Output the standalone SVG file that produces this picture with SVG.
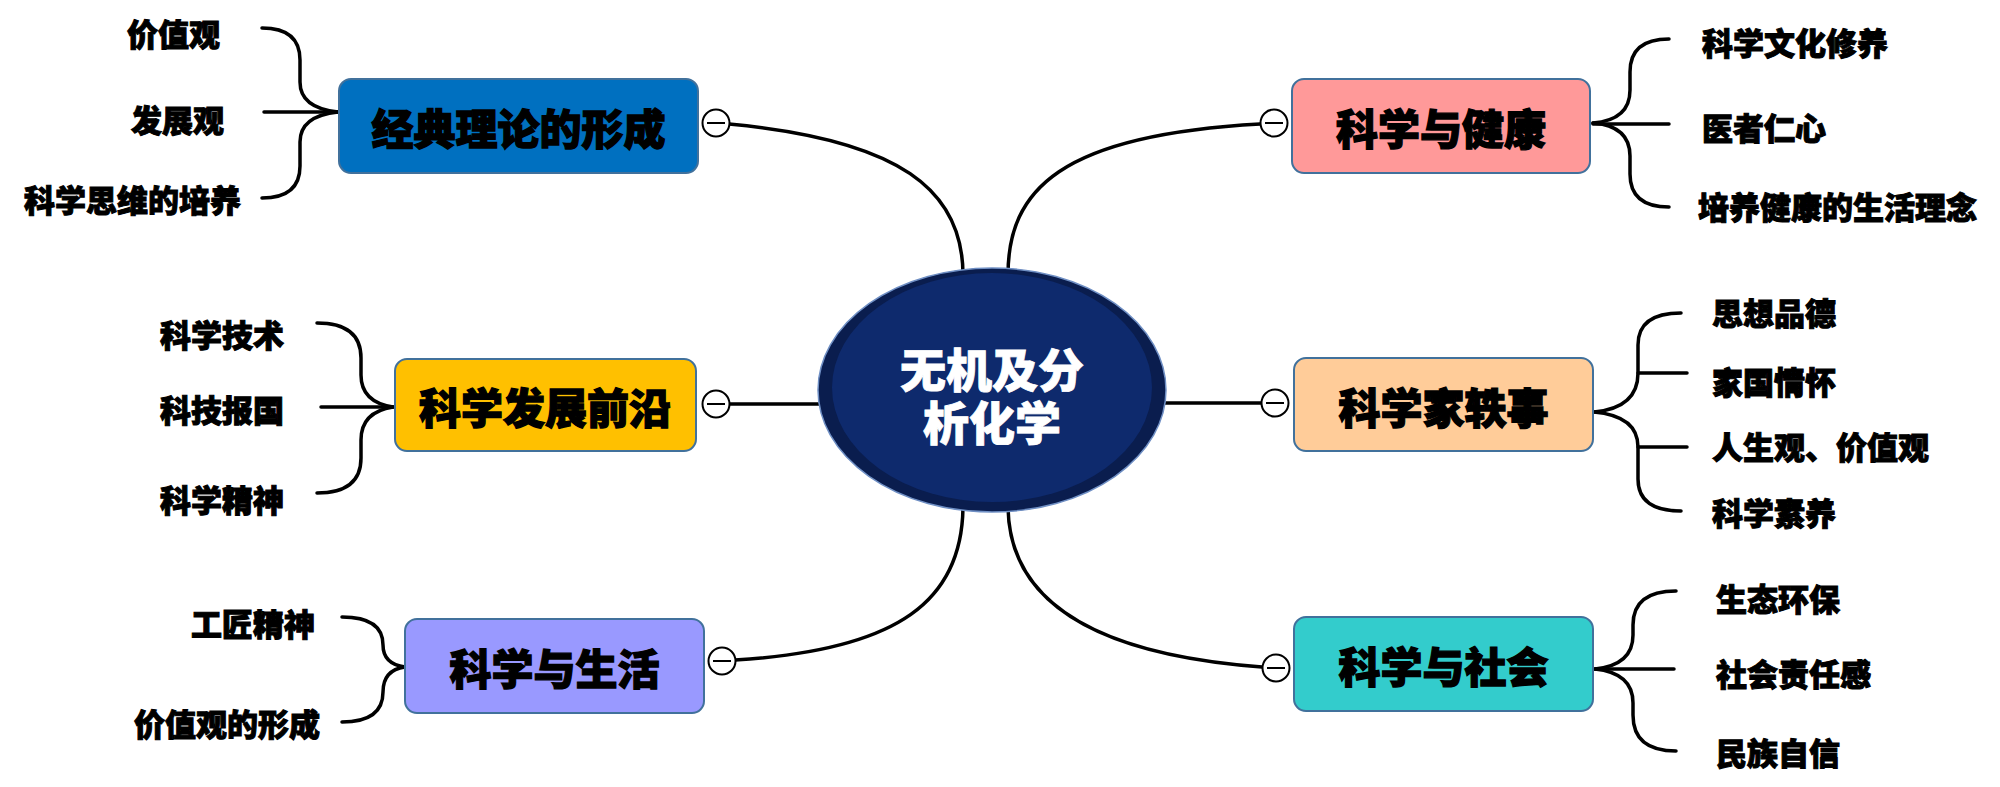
<svg xmlns="http://www.w3.org/2000/svg" width="2000" height="787" viewBox="0 0 2000 787">
<style>
.box{stroke:#41719c;stroke-width:2}
.title{font-family:"Noto Sans CJK SC","Noto Sans",sans-serif;font-weight:900;font-size:42px;fill:#000;stroke:#000;stroke-width:1.3;text-anchor:middle;dominant-baseline:central}
.sub{font-family:"Noto Sans CJK SC","Noto Sans",sans-serif;font-weight:900;font-size:31px;fill:#000;stroke:#000;stroke-width:1;dominant-baseline:central}
.l{text-anchor:end}
.center{font-family:"Noto Sans CJK SC","Noto Sans",sans-serif;font-weight:900;font-size:46px;fill:#fff;stroke:#fff;stroke-width:0.8;text-anchor:middle;dominant-baseline:central}
.c{fill:none;stroke:#000;stroke-width:3.5;stroke-linecap:round}
.tog circle{fill:#fff;stroke:#000;stroke-width:2}
.tog line{stroke:#000;stroke-width:2}
</style>
<rect width="2000" height="787" fill="#fff"/>
<g id="connectors">
<path class="c" d="M729,124 C900,140 963,190 963,275"/>
<path class="c" d="M1260,124 C1060,135 1008,190 1008,275"/>
<path class="c" d="M729,404 L830,404"/>
<path class="c" d="M1155,403 L1262,403"/>
<path class="c" d="M735,660 C900,650 963,600 963,505"/>
<path class="c" d="M1262,667 C1100,655 1008,605 1008,505"/>
<path class="c" d="M262,28 Q300,28 300,60 L300,82 Q300,108 338,112"/>
<path class="c" d="M262,198 Q300,198 300,166 L300,142 Q300,116 338,112"/>
<path class="c" d="M264,112 L338,112"/>
<path class="c" d="M317,323 Q361,323 361,358 L361,375 Q361,402 393,407"/>
<path class="c" d="M317,493 Q361,493 361,458 L361,440 Q361,412 393,407"/>
<path class="c" d="M321,407 L393,407"/>
<path class="c" d="M342,617 Q383,617 383,645 Q383,664 405,667"/>
<path class="c" d="M342,722 Q383,722 383,692 Q383,670 405,667"/>
<path class="c" d="M1593,123 Q1630,120 1630,90 L1630,72 Q1630,39 1669,39"/>
<path class="c" d="M1593,123 Q1630,126 1630,156 L1630,174 Q1630,207 1669,207"/>
<path class="c" d="M1593,124 L1669,124"/>
<path class="c" d="M1594,412 Q1638,408 1638,373 L1638,345 Q1638,313 1681,313"/>
<path class="c" d="M1594,412 Q1638,416 1638,447 L1638,479 Q1638,511 1681,511"/>
<path class="c" d="M1638,373 L1687,373"/>
<path class="c" d="M1638,447 L1687,447"/>
<path class="c" d="M1595,669 Q1633,665 1633,635 L1633,625 Q1633,591 1676,591"/>
<path class="c" d="M1595,669 Q1633,673 1633,703 L1633,715 Q1633,751 1676,751"/>
<path class="c" d="M1595,669 L1674,669"/>
</g>
<g id="center">
<ellipse cx="992" cy="390" rx="174" ry="122" fill="#0a1d4e" stroke="#6f8fc4" stroke-width="1.5"/>
<ellipse cx="992" cy="387.5" rx="160" ry="114.5" fill="#0e2a6d"/>
<text class="center" x="992" y="367"><tspan x="992" y="367">无机及分</tspan><tspan x="992" y="420">析化学</tspan></text>
</g>
<g id="n1">
<rect class="box" x="339" y="79" width="359" height="94" rx="12" fill="#0070c0"/>
<text class="title" x="518.5" y="126">经典理论的形成</text>
<g class="tog"><circle cx="716" cy="123" r="13.5"/><line x1="707" y1="123" x2="725" y2="123"/></g>
</g>
<g id="n2">
<rect class="box" x="1292" y="79" width="298" height="94" rx="12" fill="#ff9999"/>
<text class="title" x="1441" y="126">科学与健康</text>
<g class="tog"><circle cx="1274" cy="123" r="13.5"/><line x1="1265" y1="123" x2="1283" y2="123"/></g>
</g>
<g id="n3">
<rect class="box" x="395" y="359" width="301" height="92" rx="12" fill="#ffc000"/>
<text class="title" x="545" y="405">科学发展前沿</text>
<g class="tog"><circle cx="716" cy="404" r="13.5"/><line x1="707" y1="404" x2="725" y2="404"/></g>
</g>
<g id="n4">
<rect class="box" x="1294" y="358" width="299" height="93" rx="12" fill="#ffcc99"/>
<text class="title" x="1443.5" y="405">科学家轶事</text>
<g class="tog"><circle cx="1275" cy="403" r="13.5"/><line x1="1266" y1="403" x2="1284" y2="403"/></g>
</g>
<g id="n5">
<rect class="box" x="405" y="619" width="299" height="94" rx="12" fill="#9999ff"/>
<text class="title" x="554.5" y="666">科学与生活</text>
<g class="tog"><circle cx="722" cy="661" r="13.5"/><line x1="713" y1="661" x2="731" y2="661"/></g>
</g>
<g id="n6">
<rect class="box" x="1294" y="617" width="299" height="94" rx="12" fill="#33cccc"/>
<text class="title" x="1443.5" y="664">科学与社会</text>
<g class="tog"><circle cx="1276" cy="668" r="13.5"/><line x1="1267" y1="668" x2="1285" y2="668"/></g>
</g>
<g id="leaves">
<text class="sub l" x="220" y="32">价值观</text>
<text class="sub l" x="224" y="118">发展观</text>
<text class="sub l" x="241" y="198">科学思维的培养</text>
<text class="sub l" x="284" y="333">科学技术</text>
<text class="sub l" x="284" y="408">科技报国</text>
<text class="sub l" x="284" y="498">科学精神</text>
<text class="sub l" x="315" y="622">工匠精神</text>
<text class="sub l" x="320" y="722">价值观的形成</text>
<text class="sub" x="1702" y="41">科学文化修养</text>
<text class="sub" x="1702" y="126">医者仁心</text>
<text class="sub" x="1698" y="205">培养健康的生活理念</text>
<text class="sub" x="1712" y="311">思想品德</text>
<text class="sub" x="1712" y="380">家国情怀</text>
<text class="sub" x="1712" y="445">人生观、价值观</text>
<text class="sub" x="1712" y="511">科学素养</text>
<text class="sub" x="1716" y="597">生态环保</text>
<text class="sub" x="1716" y="672">社会责任感</text>
<text class="sub" x="1716" y="751">民族自信</text>
</g>
</svg>
